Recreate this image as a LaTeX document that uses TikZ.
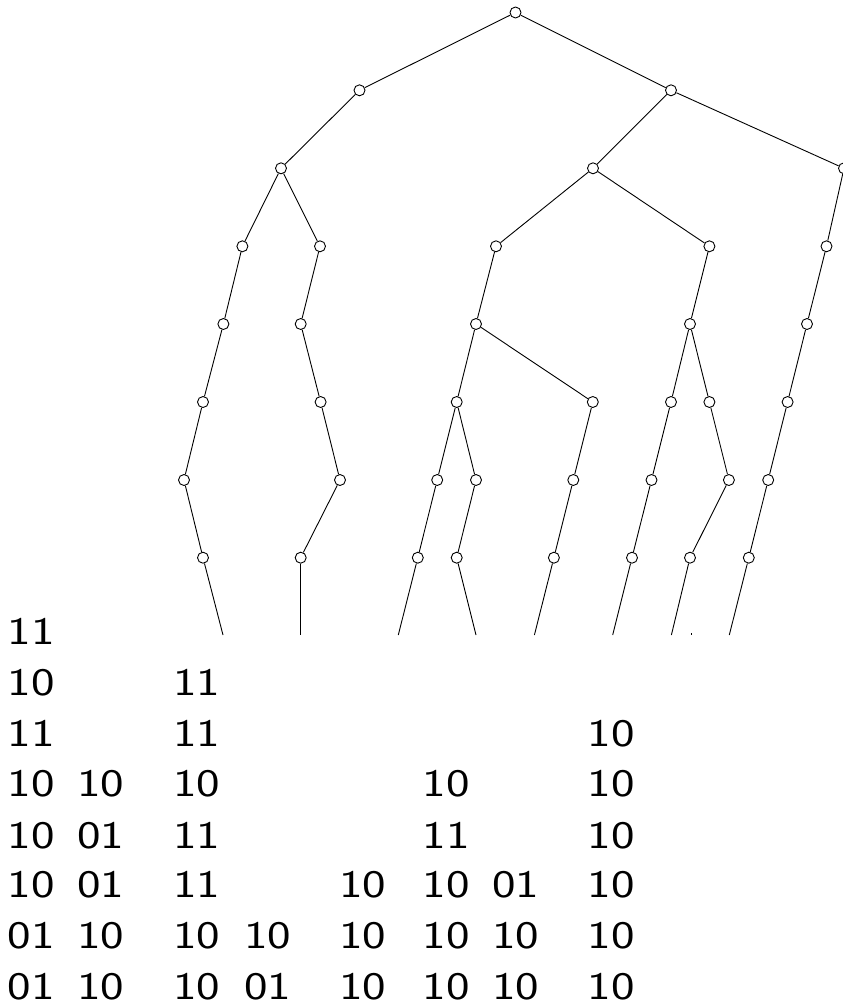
\documentclass[tikz,border=0pt]{standalone}
\usepackage{graphicx}
\tikzset{
  vtx/.style={circle,draw,line width=0.9pt,fill=white,inner sep=0pt,minimum size=11pt},
  edge/.style={line width=0.9pt},
  lbl/.style={anchor=base west,inner sep=0pt,font=\sffamily\fontsize{39}{42}\selectfont}
}
\newcommand{\widebits}[1]{\scalebox{1.28}[1]{#1}}
\begin{document}
\begin{tikzpicture}[x=1pt,y=-1pt]
\clip (0,0) rectangle (843,1005);
\fill[white] (0,0) rectangle (843,1005);
% level 0-4
\node[vtx] (n0) at (515.5,12.5) {};
\node[vtx] (a) at (359.5,90.3) {};
\node[vtx] (b) at (671,90.3) {};
\node[vtx] (c) at (281,168.3) {};
\node[vtx] (d) at (593,168.3) {};
\node[vtx] (e) at (844,168.3) {};
\node[vtx] (c1) at (242.4,246.3) {};
\node[vtx] (c2) at (320,246.3) {};
\node[vtx] (d1) at (496,246.3) {};
\node[vtx] (d2) at (709.4,246.3) {};
\node[vtx] (e1) at (826.5,246.3) {};
\node[vtx] (p1) at (223.4,324) {};
\node[vtx] (p2) at (300.7,324) {};
\node[vtx] (p3) at (476,324) {};
\node[vtx] (p4) at (690,324) {};
\node[vtx] (p5) at (807,324) {};
% level 5
\node[vtx] (q1) at (203,402) {};
\node[vtx] (q2) at (320.6,402) {};
\node[vtx] (q3) at (456.7,402) {};
\node[vtx] (q4) at (592.8,402) {};
\node[vtx] (q5) at (671,402) {};
\node[vtx] (q6) at (709.4,402) {};
\node[vtx] (q7) at (787.6,402) {};
% level 6
\node[vtx] (r1) at (184,480) {};
\node[vtx] (r2) at (340,480) {};
\node[vtx] (r3) at (437.2,480) {};
\node[vtx] (r4) at (476,480) {};
\node[vtx] (r5) at (573.3,480) {};
\node[vtx] (r6) at (651.5,480) {};
\node[vtx] (r7) at (728.9,480) {};
\node[vtx] (r8) at (768.2,480) {};
% level 7
\node[vtx] (s1) at (203,557.7) {};
\node[vtx] (s2) at (300.7,557.7) {};
\node[vtx] (s3) at (417.8,557.7) {};
\node[vtx] (s4) at (456.7,557.7) {};
\node[vtx] (s5) at (553.9,557.7) {};
\node[vtx] (s6) at (632,557.7) {};
\node[vtx] (s7) at (690,557.7) {};
\node[vtx] (s8) at (748.8,557.7) {};
% free ends
\coordinate (t1) at (223,635);
\coordinate (t2) at (300.7,635);
\coordinate (t3) at (398.3,635);
\coordinate (t4) at (476,635);
\coordinate (t5) at (534.4,635);
\coordinate (t6) at (612.7,635);
\coordinate (t7) at (671.4,635);
\coordinate (t8) at (729.3,635);
\coordinate (k1) at (691,633);
\coordinate (k2) at (691,635);
% edges
\foreach \u/\v in {n0/a,n0/b,a/c,b/d,b/e,c/c1,c/c2,d/d1,d/d2,e/e1,
  c1/p1,c2/p2,d1/p3,d2/p4,e1/p5,
  p1/q1,p2/q2,p3/q3,p3/q4,p4/q5,p4/q6,p5/q7,
  q1/r1,q2/r2,q3/r3,q3/r4,q4/r5,q5/r6,q6/r7,q7/r8,
  r1/s1,r2/s2,r3/s3,r4/s4,r5/s5,r6/s6,r7/s7,r8/s8,
  s1/t1,s2/t2,s3/t3,s4/t4,s5/t5,s6/t6,s7/t7,s8/t8}
  \draw[edge] (\u) -- (\v);
\draw[edge] (k1) -- (k2);
% labels
\foreach \nm/\x/\y/\t in {
  l11/12.5/644.3/11,
  l21/12.5/695.7/10, l23/178/695.7/11,
  l31/12.5/746.7/11, l33/178/746.7/11, l38/592.5/746.7/10,
  l41/12.5/796.7/10, l42/82/796.7/10, l43/178/796.7/10, l46/427.5/796.7/10, l48/592.5/796.7/10,
  l51/12.5/848.3/10, l52/82/848.3/01, l53/178/848.3/11, l56/427.5/848.3/11, l58/592.5/848.3/10,
  l61/12.5/897.7/10, l62/82/897.7/01, l63/178/897.7/11, l65/344/897.7/10, l66/427.5/897.7/10, l67/497/897.7/01, l68/592.5/897.7/10,
  l71/12.5/948.3/01, l72/82/948.3/10, l73/178/948.3/10, l74/249/948.3/10, l75/344/948.3/10, l76/427.5/948.3/10, l77/497/948.3/10, l78/592.5/948.3/10,
  l81/12.5/999/01, l82/82/999/10, l83/178/999/10, l84/249/999/01, l85/344/999/10, l86/427.5/999/10, l87/497/999/10, l88/592.5/999/10}
  \node[lbl] (\nm) at (\x-5,\y) {\widebits{\t}};
\end{tikzpicture}
\end{document}
